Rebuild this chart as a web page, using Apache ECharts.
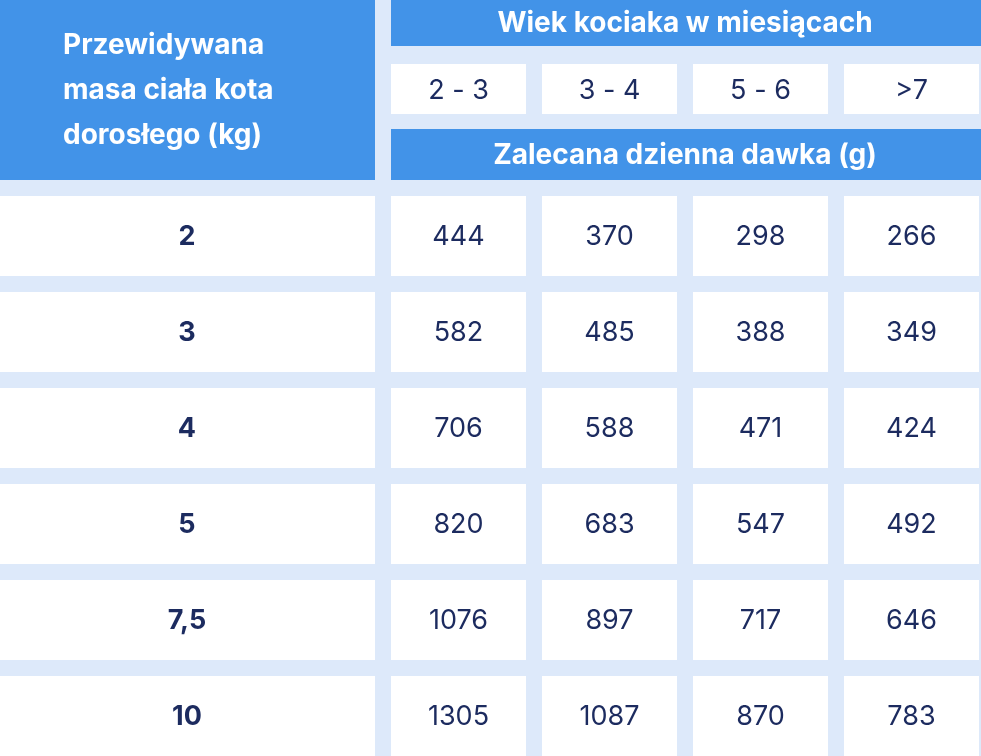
<!DOCTYPE html>
<html><head><meta charset="utf-8">
<script src="https://cdn.jsdelivr.net/npm/echarts@6/dist/echarts.min.js"></script>
<style>html,body{margin:0;padding:0;background:#dde9fa}#c{width:981px;height:756px}</style>
</head><body><div id="c"></div>
<script>
const headerTitle = ['Przewidywana', 'masa ciała kota', 'dorosłego (kg)'];
const ageTitle = 'Wiek kociaka w miesiącach';
const doseTitle = 'Zalecana dzienna dawka (g)';
const ageGroups = ['2 - 3', '3 - 4', '5 - 6', '>7'];
const weights = ['2', '3', '4', '5', '7,5', '10'];
const age23 = [444, 582, 706, 820, 1076, 1305];
const age34 = [370, 485, 588, 683, 897, 1087];
const age56 = [298, 388, 471, 547, 717, 870];
const age7 = [266, 349, 424, 492, 646, 783];
const columns = [age23, age34, age56, age7];

const BLUE = '#4293e8', NAVY = '#1c2b5f', FONT = 'Inter, "Open Sans", sans-serif';
const colX = [391, 542, 693, 844], colW = 135;
const els = [];
function rect(x, y, w, h, fill) { els.push({type:'rect', shape:{x, y, width:w, height:h}, style:{fill}}); }
function text(x, y, t, o) { els.push({type:'text', x, y, style:Object.assign({text:t, font:'400 27px ' + FONT, fill:NAVY, align:'center', verticalAlign:'middle'}, o)}); }

rect(0, 0, 375, 180, BLUE);
headerTitle.forEach((t, i) => text(63, 46 + i * 45, t, {align:'left', fill:'#fff', font:'700 28px ' + FONT}));
rect(391, 0, 590, 46, BLUE);
text(685, 24, ageTitle, {fill:'#fff', font:'700 28px ' + FONT});
ageGroups.forEach((g, i) => { rect(colX[i], 64, colW, 50, '#fff'); text(colX[i] + colW / 2, 91, g); });
rect(391, 129, 590, 51, BLUE);
text(685, 156, doseTitle, {fill:'#fff', font:'700 28px ' + FONT});
weights.forEach((w, r) => {
  const y = 196 + r * 96;
  rect(0, y, 375, 80, '#fff');
  text(187, y + 41, w, {font:'700 27px ' + FONT});
  columns.forEach((col, c) => { rect(colX[c], y, colW, 80, '#fff'); text(colX[c] + colW / 2, y + 41, String(col[r])); });
});

const chart = echarts.init(document.getElementById('c'));
chart.setOption({backgroundColor:'#dde9fa', graphic:{elements:els}});
</script></body></html>
